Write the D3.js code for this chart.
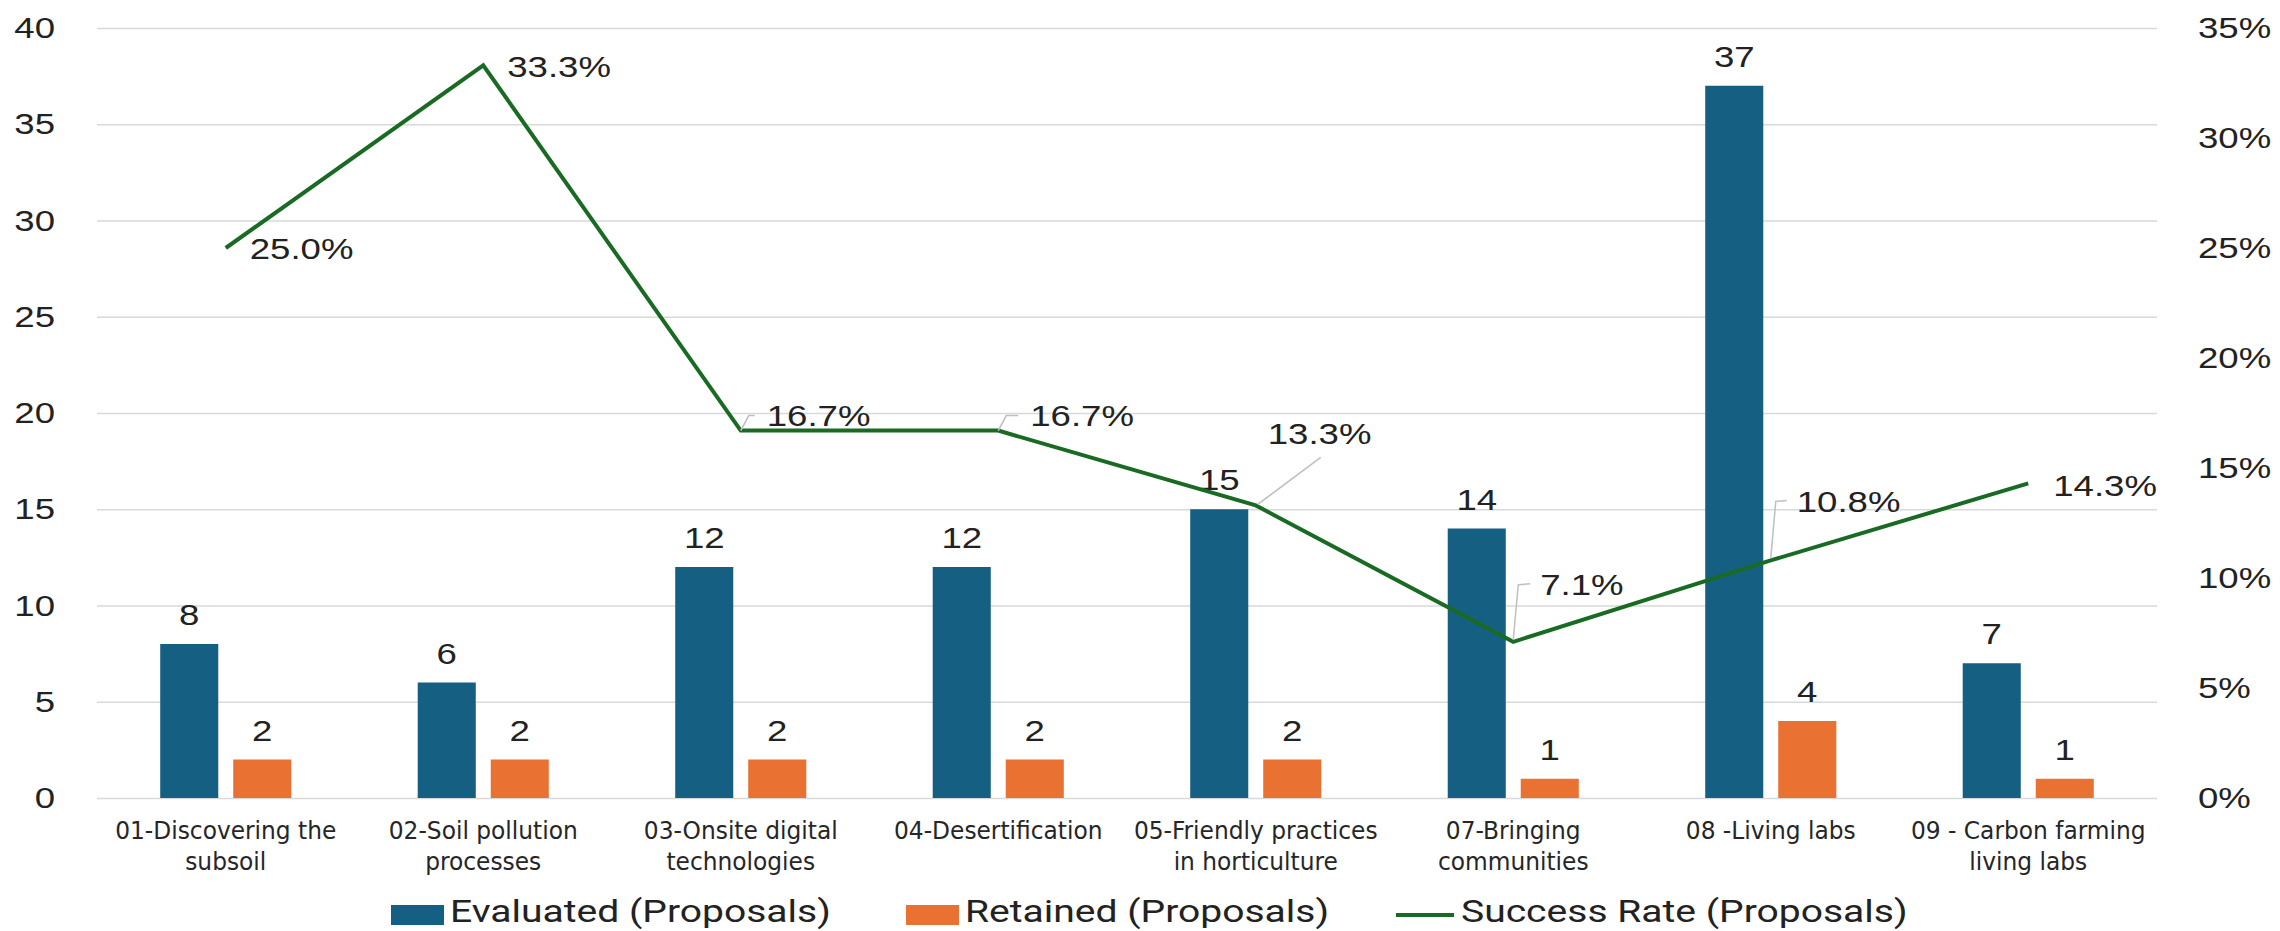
<!DOCTYPE html>
<html>
<head>
<meta charset="utf-8">
<script src="https://cdn.jsdelivr.net/npm/d3@7"></script>
<style>
  body { margin: 0; background: #fff; }
</style>
</head>
<body>
<div id="chart"></div>
<script>
const categories = [
  "01-Discovering the\nsubsoil",
  "02-Soil pollution\nprocesses",
  "03-Onsite digital\ntechnologies",
  "04-Desertification",
  "05-Friendly practices\nin horticulture",
  "07-Bringing\ncommunities",
  "08 -Living labs",
  "09 - Carbon farming\nliving labs"
];
const evaluated = [8, 6, 12, 12, 15, 14, 37, 7];
const retained = [2, 2, 2, 2, 2, 1, 4, 1];
const successRate = [0.25, 0.333, 0.167, 0.167, 0.133, 0.071, 0.108, 0.143];
const leftTicks = [0, 5, 10, 15, 20, 25, 30, 35, 40];
const rightTicks = [0, 0.05, 0.10, 0.15, 0.20, 0.25, 0.30, 0.35];
const seriesNames = ["Evaluated (Proposals)", "Retained (Proposals)", "Success Rate (Proposals)"];

// where each line label sits relative to its point: [dx, dy, leader type]
const rateLabelPos = [
  [24, 1, null], [24, 1, null], [26, -15, "elbow"], [32, -15, "elbow"],
  [12, -72, "diag"], [27, -57, "tall"], [26, -59, "tall"], [25, 2, null]
];

const width = 2280, height = 931;
const margin = {top: 28, right: 123, bottom: 133, left: 97};
const colors = {evaluated: "#156082", retained: "#E97132", rate: "#196B24"};
const numFont = "Liberation Sans, Arial, sans-serif";
const sx = 1.22; // the picture's text is a bit wide

const svg = d3.select("#chart").append("svg")
  .attr("width", width).attr("height", height);

const x0 = d3.scaleBand()
  .domain(d3.range(categories.length))
  .range([margin.left, width - margin.right])
  .paddingInner(0.491).paddingOuter(0.2455);

const x1 = d3.scaleBand()
  .domain(["evaluated", "retained"])
  .range([0, x0.bandwidth()])
  .paddingInner(0.205);

const y = d3.scaleLinear().domain([0, 40]).range([height - margin.bottom, margin.top]);
const yR = d3.scaleLinear().domain([0, 0.35]).range([height - margin.bottom, margin.top]);

const cx = i => x0(i) + x0.bandwidth() / 2;

function label(parent, x, y, txt, anchor, size, scale) {
  return parent.append("text")
    .attr("transform", `translate(${x},${y}) scale(${scale || sx},1)`)
    .attr("text-anchor", anchor || "start")
    .attr("font-family", numFont)
    .attr("font-size", size || 30).attr("fill", "#222")
    .text(txt);
}

// gridlines
svg.append("g")
  .attr("transform", `translate(${margin.left},0)`)
  .call(d3.axisLeft(y).tickValues(leftTicks).tickSize(-(width - margin.left - margin.right)).tickFormat(""))
  .call(g => g.select(".domain").remove())
  .call(g => g.selectAll("line").attr("stroke", "#d9d9d9").attr("stroke-width", 1.6));

// left axis
svg.append("g")
  .attr("transform", `translate(${margin.left - 42},0)`)
  .call(d3.axisLeft(y).tickValues(leftTicks).tickSize(0).tickPadding(0))
  .call(g => g.select(".domain").remove())
  .call(g => g.selectAll("text")
    .attr("transform", `scale(${sx},1)`)
    .attr("font-family", numFont)
    .attr("font-size", 30).attr("fill", "#222"));

// right axis
svg.append("g")
  .attr("transform", `translate(${width - margin.right + 41},0)`)
  .call(d3.axisRight(yR).tickValues(rightTicks).tickSize(0).tickPadding(0).tickFormat(d3.format(".0%")))
  .call(g => g.select(".domain").remove())
  .call(g => g.selectAll("text")
    .attr("transform", `scale(${sx},1)`)
    .attr("font-family", numFont)
    .attr("font-size", 30).attr("fill", "#222"));

// bars
const rows = categories.map((c, i) => ({i, evaluated: evaluated[i], retained: retained[i]}));
const groups = svg.append("g").selectAll("g")
  .data(rows)
  .join("g")
  .attr("transform", d => `translate(${x0(d.i)},0)`);

groups.selectAll("rect")
  .data(d => ["evaluated", "retained"].map(k => ({k, v: d[k]})))
  .join("rect")
  .attr("x", d => x1(d.k))
  .attr("y", d => y(d.v))
  .attr("width", x1.bandwidth())
  .attr("height", d => y(0) - y(d.v))
  .attr("fill", d => colors[d.k]);

groups.each(function(d) {
  const g = d3.select(this);
  ["evaluated", "retained"].forEach(k => {
    label(g, x1(k) + x1.bandwidth() / 2, y(d[k]) - 19, d[k], "middle");
  });
});

// category labels
categories.forEach((c, i) => {
  const t = svg.append("text")
    .attr("transform", `translate(${cx(i)},0) scale(1.08,1)`)
    .attr("text-anchor", "middle")
    .attr("font-family", "Liberation Sans Narrow, DejaVu Sans Condensed, sans-serif")
    .attr("font-size", 24).attr("fill", "#262626");
  c.split("\n").forEach((line, j) => {
    t.append("tspan").attr("x", 0).attr("y", 839 + j * 31).text(line);
  });
});

// success rate line
const line = d3.line().x((d, i) => cx(i)).y(d => yR(d));
svg.append("path")
  .datum(successRate)
  .attr("d", line)
  .attr("fill", "none")
  .attr("stroke", colors.rate)
  .attr("stroke-width", 4);

// line labels with leader lines
const fmt = d3.format(".1%");
successRate.forEach((v, i) => {
  const px = cx(i), py = yR(v);
  const [dx, dy, leader] = rateLabelPos[i];
  const ly = py + dy;
  let pts = null;
  if (leader === "elbow") pts = [[px, py], [px + 8, ly], [px + dx - 12, ly]];
  if (leader === "tall") pts = [[px, py - 2], [px + 5, ly], [px + dx - 10, ly - 1]];
  if (leader === "diag") pts = [[px + 2, py - 1], [px + 65, py - 48]];
  if (pts) {
    svg.append("path")
      .attr("d", d3.line()(pts))
      .attr("fill", "none").attr("stroke", "#bfbfbf").attr("stroke-width", 1.5);
  }
  label(svg, px + dx, ly, fmt(v)).attr("dominant-baseline", "central");
});

// legend
const legend = svg.append("g");
const legendX = [391, 906, 1396];
seriesNames.forEach((name, i) => {
  const g = legend.append("g").attr("transform", `translate(${legendX[i]},0)`);
  if (i < 2) {
    g.append("rect").attr("x", 0).attr("y", 905).attr("width", 53).attr("height", 20)
      .attr("fill", i === 0 ? colors.evaluated : colors.retained);
  } else {
    g.append("line").attr("x1", 0).attr("x2", 58).attr("y1", 915).attr("y2", 915)
      .attr("stroke", colors.rate).attr("stroke-width", 4);
  }
  g.append("text")
    .attr("transform", `translate(${i < 2 ? 59 : 65},922) scale(${sx},1)`)
    .attr("font-family", "Roboto, sans-serif")
    .attr("font-size", 32).attr("fill", "#222")
    .text(name);
});
</script>
</body>
</html>
